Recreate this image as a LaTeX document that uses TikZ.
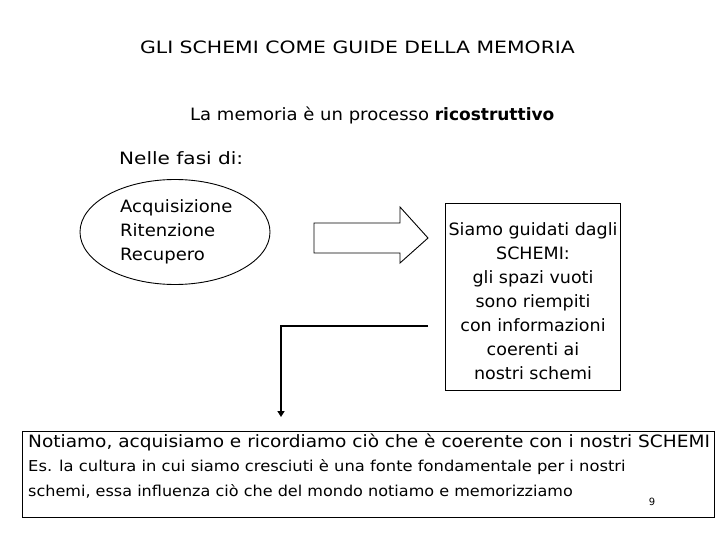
\documentclass[tikz,border=0pt]{standalone}
\usepackage{graphicx}
\usepackage{fontspec}
\setmainfont{DejaVu Sans}
\usetikzlibrary{arrows.meta,shapes.geometric}
\newcommand{\sx}[2]{\scalebox{#1}[1]{#2}}
\begin{document}
\begin{tikzpicture}[x=1pt,y=-1pt,
  txt/.style={inner sep=0pt,font=\fontsize{17}{24}\selectfont},
  small/.style={txt,font=\fontsize{15}{24}\selectfont},
  frame/.style={draw=black,line width=0.9pt,inner sep=0pt},
  conn/.style={draw=black,line width=2pt,-{Triangle[length=6pt,width=7pt]}}]
\useasboundingbox (0,0) rectangle (720,540);
\node[txt] (title) at (357.5,47) {\sx{1.2}{GLI SCHEMI COME GUIDE DELLA MEMORIA}};
\node[txt,anchor=west] (sub) at (190,115) {\sx{1.06}{La memoria è un processo }\textbf{ricostruttivo}};
\node[txt,anchor=west] (fasi) at (119,158) {\sx{1.18}{Nelle fasi di:}};
\node[frame,ellipse,minimum width=190,minimum height=105] (ell) at (175,232) {};
\node[txt,anchor=west,align=left] (phases) at (120,232) {\sx{1.06}{Acquisizione}\\\sx{1.06}{Ritenzione}\\\sx{1.06}{Recupero}};
\draw[line width=0.9pt] (314,223) -- (400,223) -- (400,207) -- (428,238) -- (400,263) -- (400,253) -- (314,253) -- cycle;
\node[frame,minimum width=175,minimum height=187] (box) at (532.5,296.5) {};
\node[txt,align=center] (boxtext) at (533,301) {\sx{1.03}{Siamo guidati dagli}\\\sx{1.03}{SCHEMI:}\\\sx{1.03}{gli spazi vuoti}\\\sx{1.03}{sono riempiti}\\\sx{1.03}{con informazioni}\\\sx{1.03}{coerenti ai}\\\sx{1.03}{nostri schemi}};
\coordinate (cstart) at (428,326);
\coordinate (cend) at (281,417);
\draw[conn] (cstart) -| (cend);
\node[frame,minimum width=692,minimum height=86] (bottom) at (368,474) {};
\node[txt,anchor=west] (b1) at (28,442) {\sx{1.09}{Notiamo, acquisiamo e ricordiamo ciò che è coerente con i nostri SCHEMI}};
\node[small,anchor=west] (b2) at (28,467) {\sx{1.09}{Es. la cultura in cui siamo cresciuti è una fonte fondamentale per i nostri}};
\node[small,anchor=west] (b3) at (28,491) {\sx{1.07}{schemi, essa influenza ciò che del mondo notiamo e memorizziamo}};
\node[txt,font=\fontsize{10}{12}\selectfont] (num) at (652,502) {9};
\end{tikzpicture}
\end{document}
